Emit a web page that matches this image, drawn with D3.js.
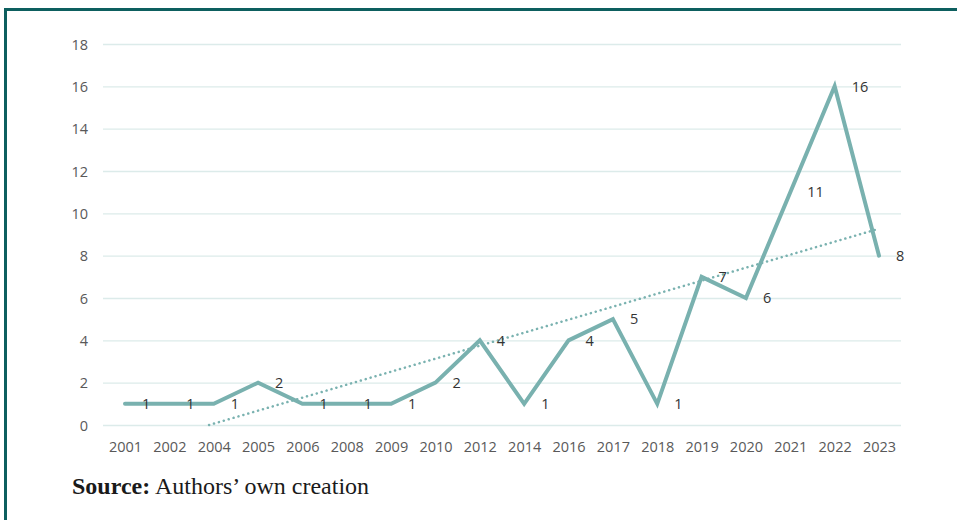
<!DOCTYPE html>
<html><head><meta charset="utf-8">
<script src="https://cdn.jsdelivr.net/npm/d3@7"></script>
<style>html,body{margin:0;padding:0;background:#fff;}svg{display:block;}</style>
</head><body>
<svg id="c" width="957" height="520"></svg>
<script>
const years = ["2001","2002","2004","2005","2006","2008","2009","2010","2012","2014","2016","2017","2018","2019","2020","2021","2022","2023"];
const counts = [1,1,1,2,1,1,1,2,4,1,4,5,1,7,6,11,16,8];
const yTicks = [0,2,4,6,8,10,12,14,16,18];

(function(){
const svg = d3.select("#c");
const W = 957, H = 520;
// frame
svg.append("rect").attr("x",4).attr("y",8).attr("width",W).attr("height",3).attr("fill","#0d5f5f");
svg.append("rect").attr("x",4).attr("y",8).attr("width",3).attr("height",H).attr("fill","#0d5f5f");

const pL = 103, pR = 901, pT = 44, pB = 425;
const x = d3.scalePoint().domain(years).range([125, 879]);
const y = d3.scaleLinear().domain([0,18]).range([pB, pT]);
const FONT = "'Open Sans', sans-serif";

// grid
const yAxis = d3.axisLeft(y).tickValues(yTicks).tickSize(-(pR-pL)).tickPadding(15);
const gy = svg.append("g").attr("transform",`translate(${pL},0)`).call(yAxis);
gy.select(".domain").remove();
gy.selectAll(".tick line").attr("stroke","#dcebea").attr("stroke-width",1.3);
gy.selectAll(".tick text").attr("fill","#595959").attr("font-family",FONT).attr("font-size",14.5).attr("dy","0.35em").attr("x",-15);

const xAxis = d3.axisBottom(x).tickSize(0).tickPadding(17);
const gx = svg.append("g").attr("transform",`translate(0,${pB})`).call(xAxis);
gx.select(".domain").remove();
gx.selectAll(".tick text").attr("fill","#595959").attr("font-family",FONT).attr("font-size",14.5);

// trendline (linear least squares, clipped at 0 like Excel)
const n = counts.length;
const mx = d3.mean(d3.range(n)), my = d3.mean(counts);
const sxy = d3.sum(counts, (v,i)=>(i-mx)*(v-my));
const sxx = d3.sum(d3.range(n), i=>(i-mx)*(i-mx));
const slope = sxy/sxx, icpt = my - slope*mx;
const step = x.step();
const i0 = Math.max(0, -icpt/slope);
const xi = i => x(years[0]) + i*step;
svg.append("line")
  .attr("x1", xi(i0)).attr("y1", y(icpt+slope*i0))
  .attr("x2", xi(n-1)).attr("y2", y(icpt+slope*(n-1)))
  .attr("stroke","#7ab2b0").attr("stroke-width",2.5)
  .attr("stroke-dasharray","0.1 5").attr("stroke-linecap","round");

// line
const line = d3.line().x((d,i)=>x(years[i])).y(d=>y(d));
svg.append("path").datum(counts).attr("d",line)
  .attr("fill","none").attr("stroke","#79b1af").attr("stroke-width",4)
  .attr("stroke-linejoin","miter").attr("stroke-linecap","round");

// labels
svg.append("g").selectAll("text").data(counts).join("text")
  .attr("x",(d,i)=>x(years[i])+17).attr("y",d=>y(d)).attr("dy","0.36em")
  .attr("font-family",FONT).attr("font-size",14.5).attr("fill","#333333")
  .text(d=>d);

// source
const src = svg.append("text").attr("x",72).attr("y",494)
  .attr("font-family","'Liberation Serif', 'Times New Roman', serif").attr("font-size",24).attr("fill","#1a1a1a");
src.append("tspan").attr("font-weight","bold").text("Source:");
src.append("tspan").text(" Authors’ own creation");
})();
</script>
</body></html>
